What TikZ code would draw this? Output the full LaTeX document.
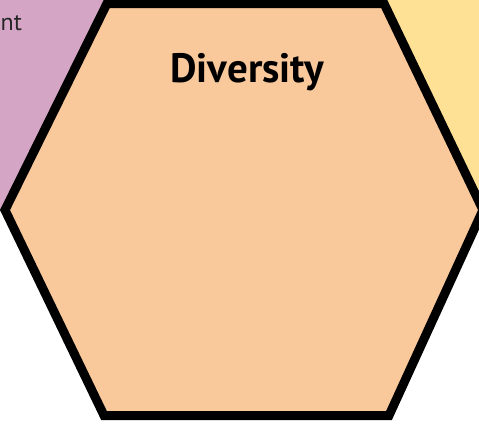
\documentclass[tikz,border=0pt]{standalone}
\usepackage{fontspec}
\setmainfont{PT Sans}
\definecolor{hexorange}{RGB}{249,200,155}
\definecolor{hexpurple}{RGB}{213,165,197}
\definecolor{hexyellow}{RGB}{255,225,150}

\begin{document}
\begin{tikzpicture}[
        x=1pt, y=-1pt,
        hexline/.style={line width=9pt, line join=miter, draw=black},
        title/.style={font=\bfseries\fontsize{41}{41}\selectfont, anchor=base},
        stub/.style={font=\fontsize{24}{24}\selectfont, anchor=base west, inner sep=0pt, text=black!85}
    ]
    \useasboundingbox (0,0) rectangle (479,426);
    \fill[white] (0,0) rectangle (479,426);
    \clip (0,0) rectangle (479,426);

    % Corners
    \coordinate (l)  at (5,210);
    \coordinate (tl) at (107,3.5);
    \coordinate (tr) at (384,3.5);
    \coordinate (r)  at (483,210);
    \coordinate (br) at (389,415.5);
    \coordinate (bl) at (104,415.5);

    % Neighbours
    \fill[hexpurple] (l) -- (tl) -- ++(0,-30) -- (-30,-30) -- (-30,210) -- cycle;
    \fill[hexyellow] (tr) -- (r) -- ++(30,0) -- (510,-30) -- (384,-30) -- cycle;

    % Hexagon
    \filldraw[hexline, fill=hexorange] (l) -- (tl) -- (tr) -- (r) -- (br) -- (bl) -- cycle;

    % Labels
    \node[title] (diversity) at (247,82) {Diversity};
    \node[stub] (stub) at (0.5,30) {nt};

\end{tikzpicture}
\end{document}
